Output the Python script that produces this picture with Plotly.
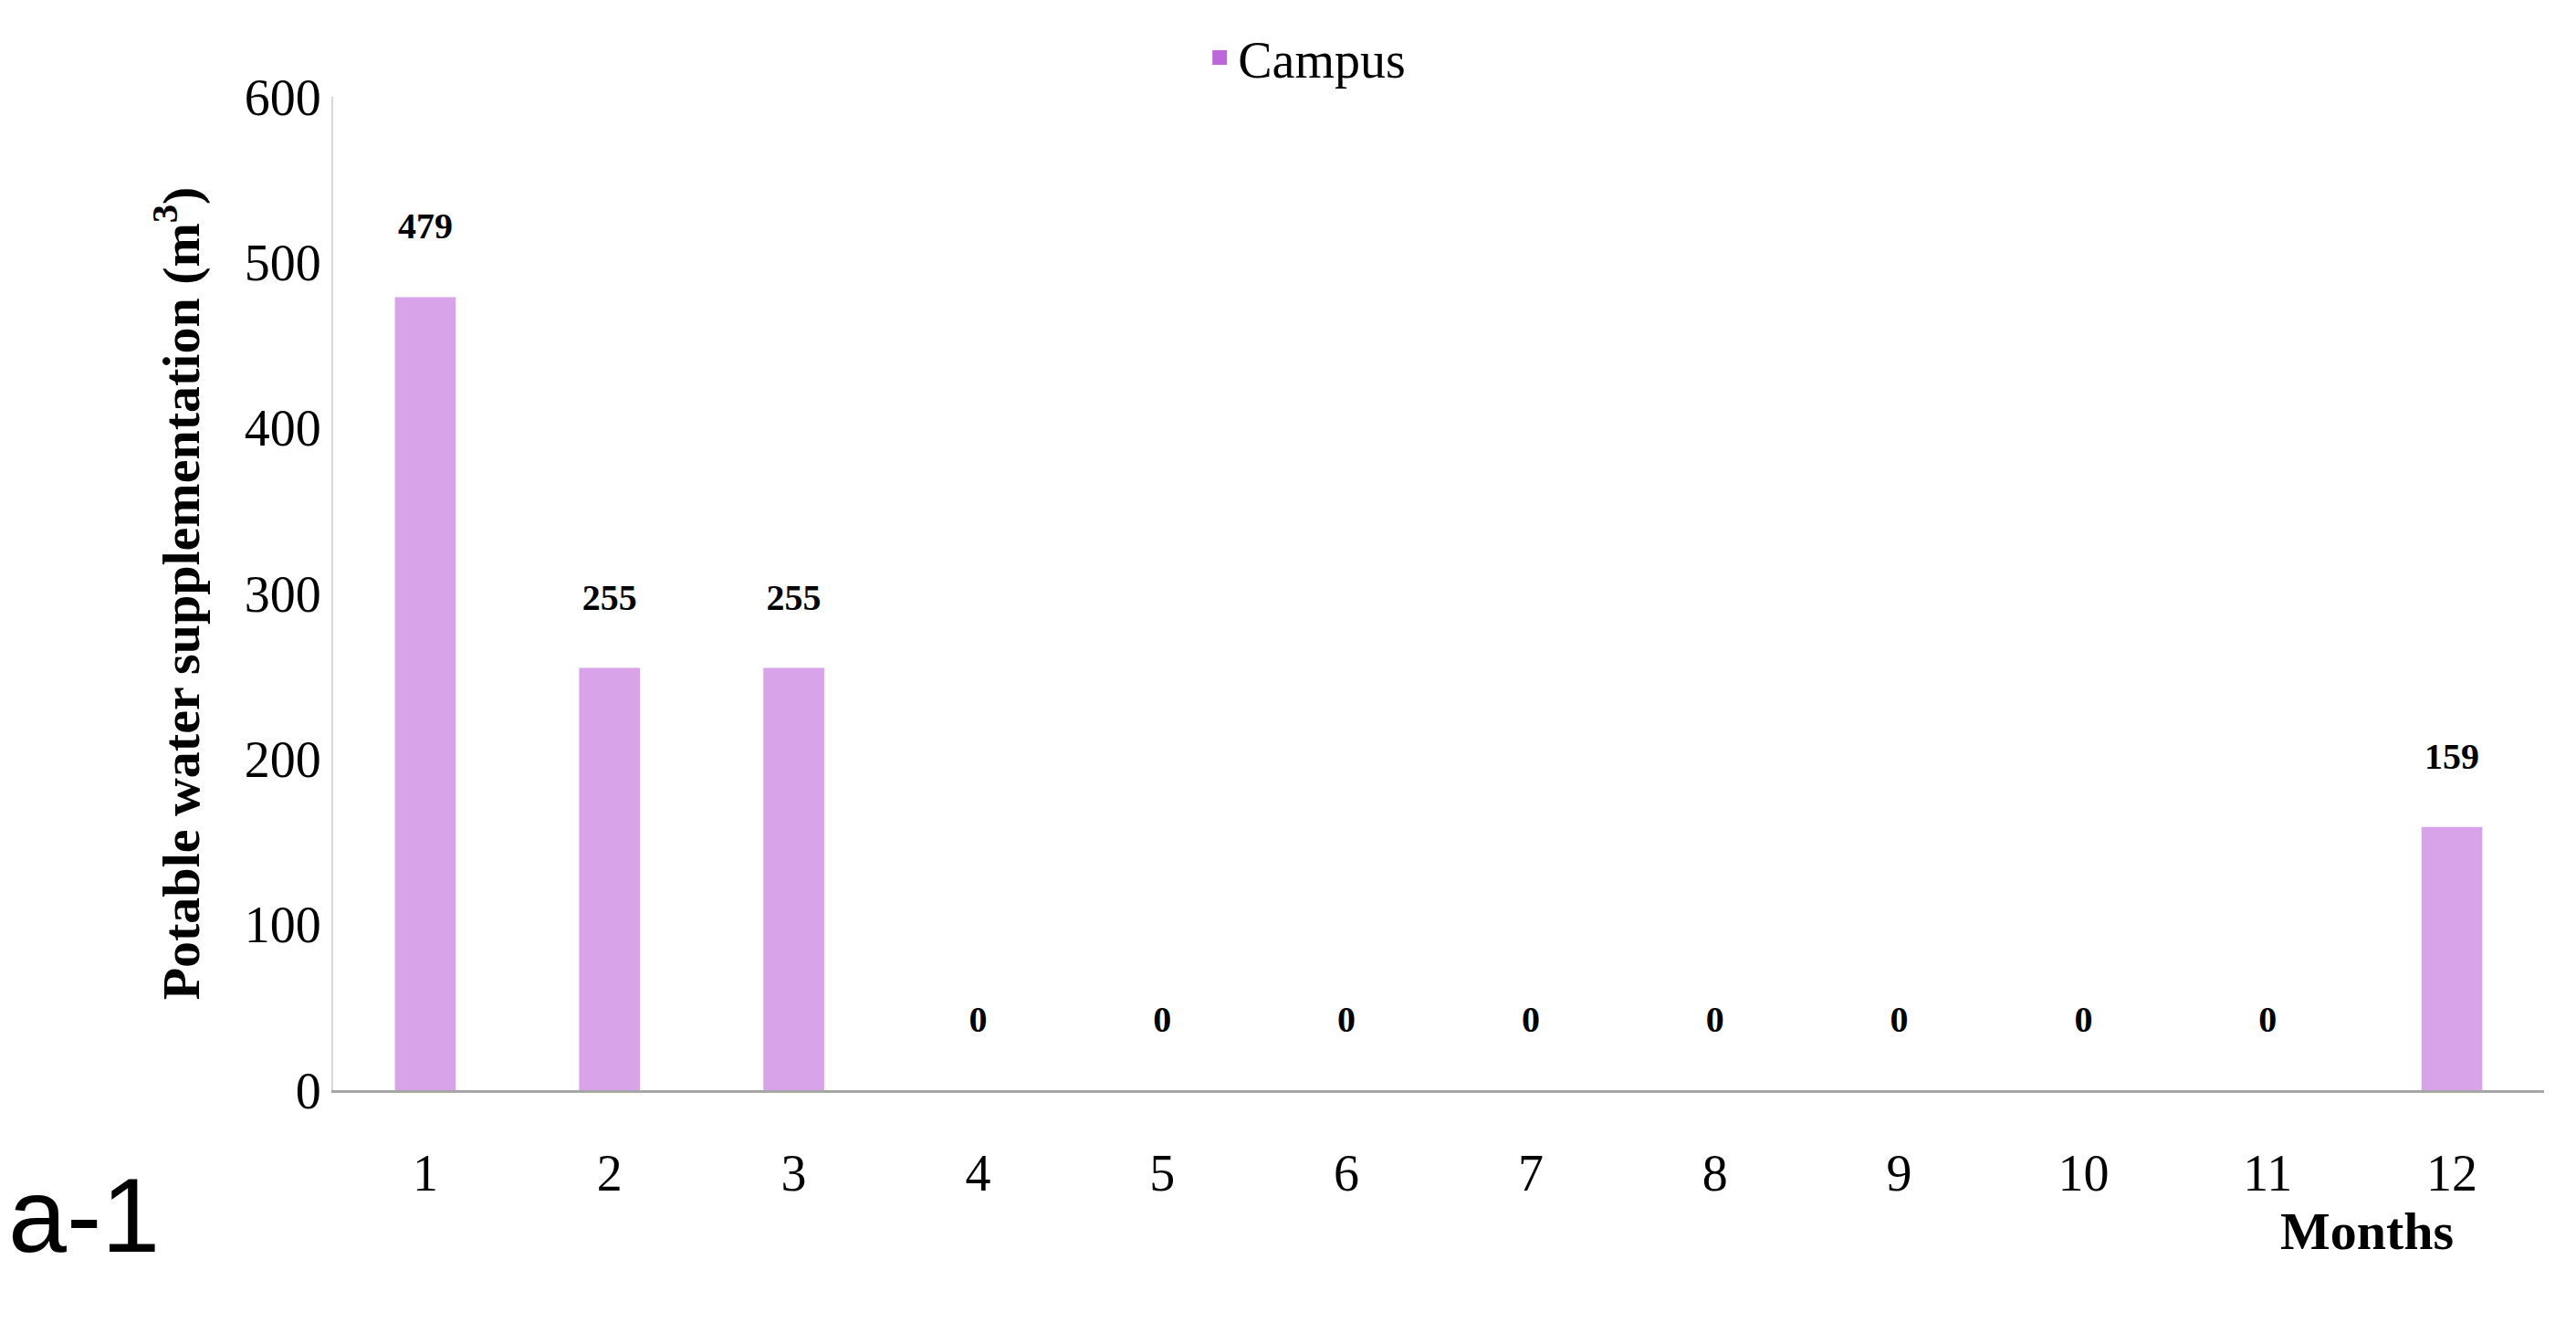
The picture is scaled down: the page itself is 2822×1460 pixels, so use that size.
import plotly.graph_objects as go

months = [str(i) for i in range(1, 13)]
values = [479, 255, 255, 0, 0, 0, 0, 0, 0, 0, 0, 159]
series_name = "Campus"
yticks = [0, 100, 200, 300, 400, 500, 600]

F = "Liberation Serif"
fig = go.Figure()
fig.add_trace(go.Bar(x=months, y=values, name=series_name, marker_color="#D8A3E8",
                     texttemplate="<b>%{y}</b><br> ", textposition="outside",
                     textfont=dict(family=F, size=40, color="black"), cliponaxis=False,
                     showlegend=False))
fig.add_trace(go.Scatter(x=[None], y=[None], mode="markers", name=series_name,
                         marker=dict(symbol="square", size=40, color="#BE66DC")))
fig.update_layout(
    width=2822, height=1460, paper_bgcolor="white", plot_bgcolor="white",
    margin=dict(l=357, r=43, t=94, b=274),
    bargap=0.67, showlegend=True,
    legend=dict(orientation="h", x=0.44, xanchor="center", y=1.0, yanchor="bottom",
                font=dict(family=F, size=56, color="black")),
    font=dict(family=F, color="black"),
    xaxis=dict(showline=True, linecolor="#A6A6A6", linewidth=3, ticks="",
               tickfont=dict(family=F, size=56), ticklabelstandoff=40),
    yaxis=dict(range=[0, 600], tickvals=yticks, showgrid=False, showline=True,
               linecolor="#D9D9D9", linewidth=2, tickfont=dict(family=F, size=56),
               title=dict(text="<b>Potable water supplementation (m<sup>3</sup>)</b>",
                          font=dict(family=F, size=58), standoff=30)),
)
fig.data[0].marker.line.width = 0
fig.add_annotation(text="<b>Months</b>", xref="paper", yref="paper", x=0.96, y=-0.11,
                   xanchor="right", yanchor="top", showarrow=False,
                   font=dict(family=F, size=58, color="black"))
fig.add_annotation(text="a-1", xref="paper", yref="paper", x=-0.148, y=-0.065,
                   xanchor="left", yanchor="top", showarrow=False,
                   font=dict(family="Liberation Sans", size=115, color="black"))
fig.write_html("out.html")
